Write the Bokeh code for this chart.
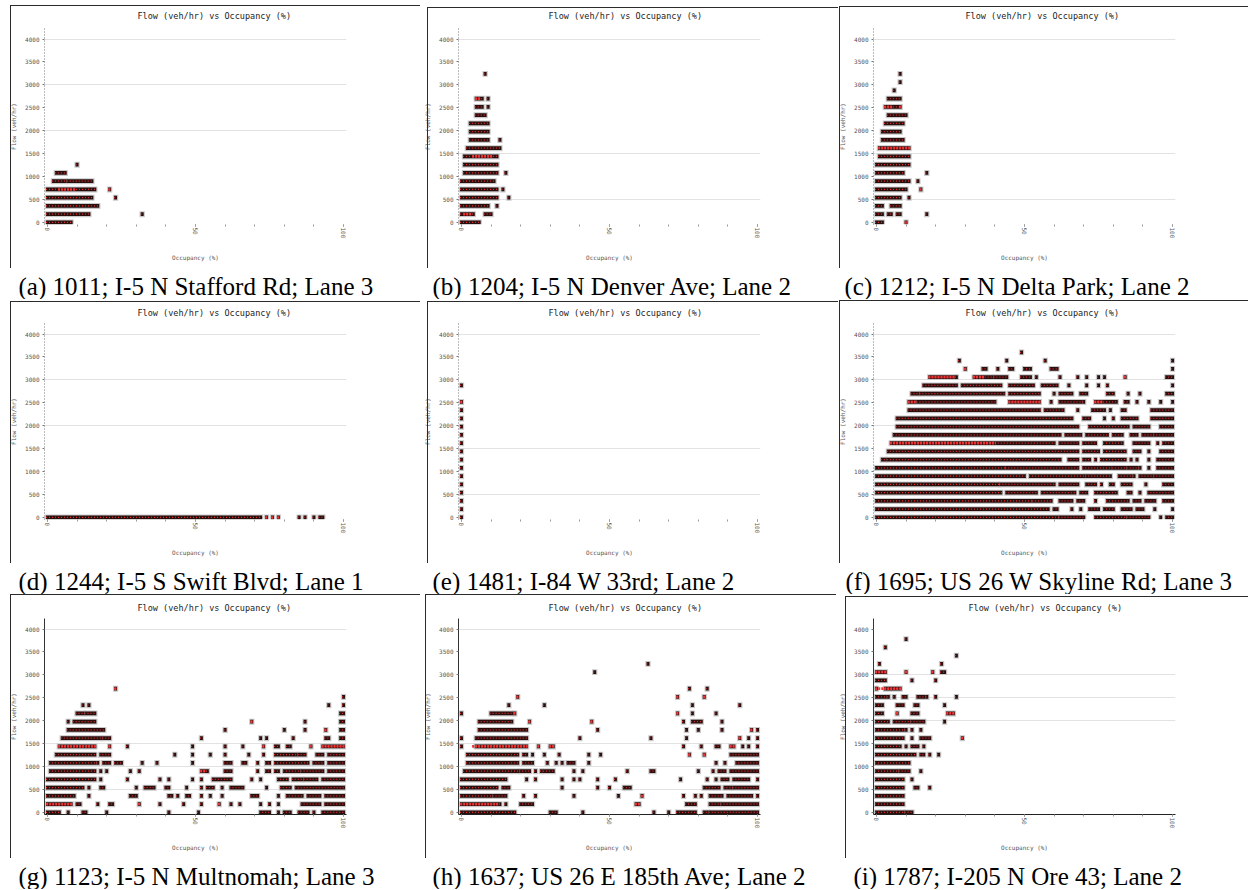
from bokeh.plotting import figure
from bokeh.models import Range1d, FixedTicker, Label, ColumnDataSource, InlineStyleSheet
from bokeh.layouts import column, row
from bokeh.embed import file_html
from bokeh.resources import INLINE

TITLE = "Flow (veh/hr) vs Occupancy (%)"
X_LABEL = "Occupancy (%)"
Y_LABEL = "Flow (veh/hr)"
Y_TICKS = [0, 500, 1000, 1500, 2000, 2500, 3000, 3500, 4000]
X_TICKS = [0, 50, 100]
X_MINOR = [0, 10, 20, 30, 40, 50, 60, 70, 80, 90, 100]

CAPTIONS = [
    "(a) 1011; I-5 N Stafford Rd; Lane 3",
    "(b) 1204; I-5 N Denver Ave; Lane 2",
    "(c) 1212; I-5 N Delta Park; Lane 2",
    "(d) 1244; I-5 S Swift Blvd; Lane 1",
    "(e) 1481; I-84 W 33rd; Lane 2",
    "(f) 1695; US 26 W Skyline Rd; Lane 3",
    "(g) 1123; I-5 N Multnomah; Lane 3",
    "(h) 1637; US 26 E 185th Ave; Lane 2",
    "(i) 1787; I-205 N Ore 43; Lane 2",
]

# runs of observed points: (flow veh/hr, occupancy from %, occupancy to %)
A_RUNS = [(0, 0, 8), (180, 0, 14), (180, 32, 32), (360, 0, 17), (540, 0, 15), (540, 23, 23),
          (720, 0, 16), (720, 21, 21), (900, 2, 6), (900, 7, 15), (1080, 3, 6), (1260, 10, 10)]
A_RED = [(720, 21, 21), (720, 4, 9)]
A_GRID = [2000, 3000, 4000]

B_RUNS = [(0, 0, 6), (180, 0, 4), (180, 8, 10), (360, 0, 9), (360, 12, 12), (540, 0, 12), (540, 16, 16),
          (720, 0, 12), (720, 14, 14), (900, 0, 11), (1080, 1, 12), (1080, 15, 15), (1260, 1, 12),
          (1440, 1, 12), (1620, 2, 13), (1800, 3, 9), (1800, 13, 13), (1980, 3, 9), (2160, 3, 9),
          (2340, 5, 8), (2520, 5, 7), (2520, 9, 9), (2700, 5, 7), (2700, 9, 9), (3240, 8, 8)]
B_RED = [(1440, 4, 10), (180, 1, 3), (2700, 5, 6)]
B_GRID = [500, 1500, 4000]

C_RUNS = [(0, 0, 2), (0, 10, 10), (180, 0, 2), (180, 4, 5), (180, 7, 8), (180, 17, 17), (360, 0, 2),
          (360, 5, 8), (540, 0, 8), (540, 11, 11), (720, 0, 10), (720, 15, 15), (900, 0, 11), (900, 14, 14),
          (1080, 0, 9), (1080, 17, 17), (1260, 0, 11), (1440, 1, 11), (1620, 1, 11), (1800, 2, 9),
          (1980, 2, 8), (2160, 3, 9), (2340, 4, 10), (2520, 3, 8), (2700, 4, 8), (2880, 6, 6),
          (3060, 8, 8), (3240, 8, 8)]
C_RED = [(0, 10, 10), (720, 15, 15), (1620, 1, 11), (2520, 3, 5), (2520, 8, 8)]
C_GRID = [500, 1500, 4000]

D_RUNS = [(0, 0, 72), (0, 74, 74), (0, 76, 76), (0, 78, 78), (0, 85, 85), (0, 87, 87), (0, 90, 90),
          (0, 92, 93)]
D_RED = [(0, 74, 74), (0, 76, 76), (0, 78, 78)]
D_GRID = [2000, 3000, 4000]

E_RUNS = [(0, 0, 0), (180, 0, 0), (360, 0, 0), (540, 0, 0), (720, 0, 0), (900, 0, 0), (1080, 0, 0),
          (1260, 0, 0), (1440, 0, 0), (1620, 0, 0), (1800, 0, 0), (1980, 0, 0), (2160, 0, 0),
          (2340, 0, 0), (2520, 0, 0), (2880, 0, 0)]
E_RED = [(2520, 0, 0)]
E_GRID = [500, 1500, 4000]

F_RUNS = [
    (0, 0, 61), (0, 62, 70), (0, 74, 84), (0, 85, 92), (0, 96, 96), (0, 98, 100),
    (180, 0, 58), (180, 60, 61), (180, 66, 66), (180, 69, 69), (180, 72, 75), (180, 77, 80),
    (180, 83, 86), (180, 88, 90), (180, 94, 94), (180, 100, 100),
    (360, 0, 52), (360, 53, 59), (360, 62, 66), (360, 68, 70), (360, 74, 74), (360, 78, 85),
    (360, 87, 89), (360, 91, 94), (360, 97, 100),
    (540, 0, 42), (540, 44, 54), (540, 56, 67), (540, 69, 71), (540, 74, 77), (540, 78, 81),
    (540, 85, 86), (540, 89, 89), (540, 92, 100),
    (720, 0, 41), (720, 42, 60), (720, 62, 68), (720, 71, 74), (720, 76, 76), (720, 79, 80),
    (720, 83, 86), (720, 91, 91), (720, 97, 100),
    (900, 0, 50), (900, 52, 70), (900, 71, 74), (900, 75, 79), (900, 82, 86), (900, 87, 87),
    (900, 89, 93), (900, 94, 100),
    (1080, 0, 43), (1080, 44, 68), (1080, 70, 74), (1080, 75, 79), (1080, 80, 84), (1080, 85, 88),
    (1080, 89, 89), (1080, 92, 92), (1080, 95, 100),
    (1260, 2, 3), (1260, 4, 62), (1260, 65, 68), (1260, 70, 72), (1260, 74, 74), (1260, 76, 84),
    (1260, 86, 86), (1260, 88, 88), (1260, 92, 92), (1260, 95, 100),
    (1440, 4, 68), (1440, 70, 75), (1440, 77, 84), (1440, 87, 89), (1440, 92, 92), (1440, 96, 100),
    (1620, 5, 60), (1620, 62, 68), (1620, 70, 74), (1620, 77, 83), (1620, 87, 92), (1620, 95, 95),
    (1620, 97, 100),
    (1800, 6, 62), (1800, 64, 69), (1800, 71, 78), (1800, 80, 83), (1800, 86, 88), (1800, 90, 93),
    (1800, 94, 100),
    (1980, 7, 68), (1980, 72, 78), (1980, 79, 85), (1980, 87, 92), (1980, 96, 100),
    (2160, 7, 66), (2160, 70, 72), (2160, 77, 77), (2160, 80, 80), (2160, 83, 88), (2160, 93, 100),
    (2340, 11, 55), (2340, 57, 63), (2340, 68, 68), (2340, 73, 77), (2340, 79, 79), (2340, 83, 84),
    (2340, 93, 100),
    (2520, 11, 13), (2520, 14, 40), (2520, 45, 55), (2520, 59, 59), (2520, 62, 69), (2520, 70, 70),
    (2520, 74, 81), (2520, 84, 85), (2520, 88, 88), (2520, 92, 92), (2520, 96, 96), (2520, 100, 100),
    (2700, 12, 14), (2700, 15, 43), (2700, 45, 55), (2700, 60, 60), (2700, 62, 66), (2700, 69, 71),
    (2700, 78, 80), (2700, 85, 85), (2700, 89, 89), (2700, 98, 100),
    (2880, 16, 27), (2880, 29, 42), (2880, 45, 53), (2880, 56, 61), (2880, 65, 65), (2880, 71, 71),
    (2880, 75, 75), (2880, 78, 78), (2880, 100, 100),
    (3060, 18, 26), (3060, 27, 27), (3060, 33, 39), (3060, 40, 44), (3060, 49, 52), (3060, 54, 54),
    (3060, 62, 62), (3060, 68, 68), (3060, 71, 71), (3060, 75, 75), (3060, 77, 77), (3060, 84, 84),
    (3060, 98, 100),
    (3240, 30, 30), (3240, 36, 37), (3240, 41, 41), (3240, 45, 46), (3240, 50, 52), (3240, 59, 61),
    (3240, 100, 100),
    (3420, 28, 28), (3420, 44, 44), (3420, 57, 57), (3420, 100, 100),
    (3600, 49, 49),
]
F_RED = [(3060, 18, 26), (2520, 11, 13), (2520, 45, 55), (2520, 74, 76), (1620, 5, 40),
         (3060, 33, 36), (3060, 84, 84), (3240, 30, 30)]
F_GRID = [2000, 3000, 4000]

G_RUNS = [
    (0, 0, 4), (0, 7, 7), (0, 12, 13), (0, 20, 20), (0, 41, 41), (0, 51, 51), (0, 72, 75), (0, 78, 78),
    (0, 80, 82), (0, 85, 88), (0, 90, 90), (0, 93, 100),
    (180, 0, 8), (180, 10, 11), (180, 17, 17), (180, 21, 22), (180, 31, 31), (180, 38, 38),
    (180, 46, 46), (180, 52, 52), (180, 58, 58), (180, 62, 62), (180, 65, 65), (180, 72, 72),
    (180, 75, 75), (180, 78, 78), (180, 86, 92), (180, 94, 100),
    (360, 0, 9), (360, 14, 14), (360, 28, 30), (360, 41, 42), (360, 44, 44), (360, 47, 48),
    (360, 52, 52), (360, 55, 55), (360, 59, 59), (360, 69, 71), (360, 78, 78), (360, 81, 86),
    (360, 88, 92), (360, 94, 100),
    (540, 0, 12), (540, 14, 14), (540, 18, 19), (540, 30, 30), (540, 33, 36), (540, 40, 41),
    (540, 47, 47), (540, 52, 52), (540, 54, 56), (540, 59, 59), (540, 62, 66), (540, 74, 74),
    (540, 79, 82), (540, 84, 100),
    (720, 0, 16), (720, 18, 18), (720, 27, 27), (720, 38, 38), (720, 41, 41), (720, 49, 49),
    (720, 52, 52), (720, 56, 62), (720, 69, 69), (720, 72, 72), (720, 78, 81), (720, 83, 86),
    (720, 87, 91), (720, 93, 100),
    (900, 1, 16), (900, 18, 18), (900, 20, 20), (900, 28, 28), (900, 31, 31), (900, 52, 54),
    (900, 60, 62), (900, 71, 71), (900, 74, 75), (900, 77, 78), (900, 80, 85), (900, 86, 93),
    (900, 95, 100),
    (1080, 1, 16), (1080, 17, 17), (1080, 19, 21), (1080, 23, 25), (1080, 32, 32), (1080, 37, 37),
    (1080, 49, 49), (1080, 60, 62), (1080, 66, 67), (1080, 71, 71), (1080, 74, 75), (1080, 77, 88),
    (1080, 90, 93), (1080, 95, 100),
    (1260, 3, 16), (1260, 18, 21), (1260, 43, 43), (1260, 49, 49), (1260, 55, 55), (1260, 60, 60),
    (1260, 68, 68), (1260, 73, 73), (1260, 77, 84), (1260, 85, 87), (1260, 91, 93), (1260, 95, 100),
    (1440, 4, 16), (1440, 21, 21), (1440, 27, 27), (1440, 49, 49), (1440, 60, 60), (1440, 66, 66),
    (1440, 73, 73), (1440, 77, 78), (1440, 81, 82), (1440, 89, 89), (1440, 93, 100),
    (1620, 5, 18), (1620, 19, 21), (1620, 52, 52), (1620, 72, 72), (1620, 74, 74), (1620, 83, 83),
    (1620, 94, 95), (1620, 99, 100),
    (1800, 7, 19), (1800, 60, 60), (1800, 80, 80), (1800, 87, 87), (1800, 94, 94), (1800, 99, 100),
    (1980, 7, 7), (1980, 9, 16), (1980, 69, 69), (1980, 87, 87), (1980, 99, 100),
    (2160, 10, 12), (2160, 13, 16), (2160, 99, 100),
    (2340, 12, 12), (2340, 14, 14), (2340, 95, 95), (2340, 100, 100),
    (2520, 100, 100),
    (2700, 23, 23),
]
G_RED = [(2700, 23, 23), (1980, 69, 69), (1800, 94, 94), (1440, 4, 16), (1440, 21, 21),
         (1440, 73, 73), (1440, 89, 89), (1440, 93, 100), (180, 31, 31), (180, 0, 8),
         (180, 58, 58), (900, 52, 53)]
G_GRID = [500, 1000, 1500, 4000]

H_RUNS = [
    (0, 0, 18), (0, 30, 32), (0, 41, 41), (0, 65, 65), (0, 70, 70), (0, 73, 79), (0, 82, 83),
    (0, 84, 100),
    (180, 0, 13), (180, 15, 15), (180, 20, 24), (180, 59, 60), (180, 76, 79), (180, 84, 87),
    (180, 88, 100),
    (360, 0, 10), (360, 11, 15), (360, 21, 21), (360, 25, 25), (360, 38, 38), (360, 53, 53),
    (360, 61, 61), (360, 75, 75), (360, 79, 79), (360, 81, 81), (360, 84, 88), (360, 90, 98),
    (360, 100, 100),
    (540, 0, 12), (540, 14, 16), (540, 34, 34), (540, 46, 46), (540, 50, 50), (540, 55, 57),
    (540, 82, 87), (540, 89, 91), (540, 92, 100),
    (720, 0, 15), (720, 22, 22), (720, 25, 25), (720, 34, 34), (720, 38, 38), (720, 40, 40),
    (720, 46, 46), (720, 52, 52), (720, 74, 74), (720, 83, 83), (720, 86, 86), (720, 88, 90),
    (720, 92, 97), (720, 100, 100),
    (900, 1, 19), (900, 20, 23), (900, 25, 25), (900, 27, 27), (900, 28, 31), (900, 38, 38),
    (900, 41, 41), (900, 56, 56), (900, 64, 65), (900, 80, 80), (900, 85, 85), (900, 87, 89),
    (900, 91, 100),
    (1080, 2, 19), (1080, 21, 24), (1080, 29, 29), (1080, 32, 32), (1080, 34, 34), (1080, 36, 38),
    (1080, 43, 43), (1080, 86, 86), (1080, 89, 89), (1080, 93, 100),
    (1260, 2, 19), (1260, 21, 22), (1260, 24, 24), (1260, 28, 28), (1260, 33, 33), (1260, 43, 43),
    (1260, 47, 47), (1260, 77, 77), (1260, 82, 82), (1260, 91, 100),
    (1440, 0, 0), (1440, 5, 22), (1440, 26, 26), (1440, 30, 31), (1440, 75, 75), (1440, 81, 81),
    (1440, 86, 87), (1440, 91, 92), (1440, 95, 95), (1440, 97, 97), (1440, 100, 100),
    (1620, 0, 0), (1620, 5, 22), (1620, 40, 40), (1620, 64, 64), (1620, 76, 76), (1620, 94, 94),
    (1620, 97, 97), (1620, 100, 100),
    (1800, 6, 22), (1800, 46, 46), (1800, 76, 76), (1800, 80, 80), (1800, 88, 88), (1800, 98, 98),
    (1800, 100, 100),
    (1980, 6, 17), (1980, 23, 23), (1980, 44, 44), (1980, 75, 75), (1980, 78, 81), (1980, 88, 88),
    (2160, 0, 0), (2160, 10, 17), (2160, 18, 18), (2160, 73, 73), (2160, 78, 78), (2160, 86, 86),
    (2340, 16, 16), (2340, 28, 28), (2340, 78, 78), (2340, 94, 94),
    (2520, 19, 19), (2520, 73, 73), (2520, 82, 82),
    (2700, 77, 77), (2700, 83, 83),
    (3060, 45, 45),
    (3240, 63, 63),
]
H_RED = [(2520, 19, 19), (2520, 73, 73), (2520, 82, 82), (2160, 18, 18), (2160, 73, 73),
         (1980, 23, 23), (1980, 44, 44), (1800, 98, 98), (1620, 94, 94), (1440, 4, 22),
         (1440, 26, 26), (1440, 30, 31), (1440, 91, 92), (1260, 77, 77), (1260, 82, 82),
         (360, 61, 61), (180, 59, 60), (180, 0, 12)]
H_GRID = [500, 1000, 1500, 4000]

I_RUNS = [
    (0, 0, 9), (0, 10, 12),
    (180, 0, 9),
    (360, 0, 9),
    (540, 0, 9), (540, 13, 14), (540, 18, 18),
    (720, 0, 9), (720, 12, 12),
    (900, 0, 7), (900, 8, 11), (900, 15, 15),
    (1080, 0, 11),
    (1260, 0, 13), (1260, 15, 16), (1260, 18, 18), (1260, 21, 21),
    (1440, 0, 8), (1440, 10, 10), (1440, 12, 14), (1440, 16, 16),
    (1620, 0, 9), (1620, 12, 12), (1620, 15, 18), (1620, 29, 29),
    (1800, 0, 9), (1800, 10, 10), (1800, 12, 12), (1800, 15, 15),
    (1980, 0, 4), (1980, 6, 11), (1980, 12, 16), (1980, 23, 23),
    (2160, 0, 2), (2160, 7, 7), (2160, 12, 14), (2160, 24, 26),
    (2340, 0, 2), (2340, 7, 9), (2340, 13, 14), (2340, 23, 23),
    (2520, 0, 3), (2520, 4, 4), (2520, 6, 6), (2520, 9, 10), (2520, 14, 16), (2520, 17, 17),
    (2520, 20, 20), (2520, 27, 27),
    (2700, 0, 0), (2700, 3, 8),
    (2880, 0, 3), (2880, 12, 12), (2880, 20, 20),
    (3060, 0, 3), (3060, 10, 10), (3060, 19, 19), (3060, 22, 23),
    (3240, 1, 1), (3240, 22, 22),
    (3420, 27, 27),
    (3600, 3, 3),
    (3780, 10, 10),
]
I_RED = [(1620, 29, 29), (2160, 7, 7), (2160, 24, 26), (2700, 0, 8), (3060, 0, 3), (3060, 10, 10),
         (3060, 19, 19)]
I_GRID = [2000, 2500, 3000]

COL_W = [418, 418, 412]
COL_L = [44, 40, 37]
ROW_TOP = [28, 24, 24]
ROW_STANDOFF = [15, 12, 12]
ROW_H = [269, 265, 265]
CAP_H = 30
FRAME_W = 302
FRAME_H = 196
MONO = "DejaVu Sans Mono"


def frame_css(left, top, width, height):
    return InlineStyleSheet(css=(
        ":host::after {content: ''; position: absolute; left: %dpx; top: %dpx; width: %dpx; "
        "height: %dpx; border-left: 1px solid #2b2b2b; border-top: 1px solid #2b2b2b; "
        "pointer-events: none; z-index: 5;}" % (left, top, width, height)))


def make_chart(runs, reds, grid, col, rw, solid, title_dx, border):
    w = COL_W[col]
    left = COL_L[col]
    h = ROW_H[rw]
    top = ROW_TOP[rw]
    p = figure(width=w, height=h, x_range=Range1d(-1, 101), y_range=Range1d(-45, 4230),
               output_backend="svg", toolbar_location=None,
               min_border_left=left, min_border_right=w - left - FRAME_W,
               min_border_top=top, min_border_bottom=h - top - FRAME_H,
               stylesheets=[frame_css(*border)])
    p.outline_line_color = None
    p.background_fill_color = "white"
    p.border_fill_color = "white"

    p.title.text = TITLE
    p.title.align = "left"
    p.title.offset = title_dx
    p.title.text_font = MONO
    p.title.text_font_size = "8.5px"
    p.title.text_font_style = "normal"
    p.title.text_color = "#222222"
    p.title.standoff = ROW_STANDOFF[rw]

    p.xgrid.visible = False
    p.ygrid.ticker = FixedTicker(ticks=grid)
    p.ygrid.grid_line_color = "#e2e2e2"
    p.ygrid.grid_line_width = 1

    xa = p.xaxis[0]
    xa.ticker = FixedTicker(ticks=X_TICKS, minor_ticks=X_MINOR)
    xa.major_label_orientation = "vertical"
    xa.major_label_text_font = MONO
    xa.major_label_text_font_size = "6px"
    xa.major_label_text_color = "#555555"
    xa.major_label_standoff = 1
    xa.major_tick_out = 2
    xa.major_tick_in = 0
    xa.minor_tick_out = 2
    xa.minor_tick_in = 0
    xa.major_tick_line_color = "#777777"
    xa.minor_tick_line_color = "#999999"
    xa.axis_line_color = "#222222" if solid else None
    xa.axis_label = X_LABEL
    xa.axis_label_text_font = MONO
    xa.axis_label_text_font_size = "6px"
    xa.axis_label_text_font_style = "normal"
    xa.axis_label_text_color = "#555555"
    xa.axis_label_standoff = 13

    ya = p.yaxis[0]
    ya.ticker = FixedTicker(ticks=Y_TICKS)
    ya.major_label_text_font = MONO
    ya.major_label_text_font_size = "6px"
    ya.major_label_text_color = "#555555"
    ya.major_label_standoff = 3
    ya.major_tick_out = 2
    ya.major_tick_in = 0
    ya.major_tick_line_color = "#777777"
    ya.minor_tick_line_color = None
    ya.axis_line_color = "#333333" if solid else "#777777"
    if not solid:
        ya.axis_line_dash = "1 2"
    ya.axis_label = Y_LABEL
    ya.axis_label_text_font = MONO
    ya.axis_label_text_font_size = "6px"
    ya.axis_label_text_font_style = "normal"
    ya.axis_label_text_color = "#555555"
    ya.axis_label_standoff = 5

    src = ColumnDataSource(dict(
        flow=[r[0] for r in runs],
        lo=[r[1] - 0.5 for r in runs],
        hi=[r[2] + 0.5 for r in runs],
        lo_h=[r[1] - 0.9 for r in runs],
        hi_h=[r[2] + 0.9 for r in runs],
    ))
    rsrc = ColumnDataSource(dict(
        flow=[r[0] for r in reds],
        lo=[r[1] - 0.4 for r in reds],
        hi=[r[2] + 0.4 for r in reds],
    ))
    p.hbar(y="flow", left="lo_h", right="hi_h", height=130, source=src,
           fill_color="#c9c9c9", line_color=None)
    p.hbar(y="flow", left="lo", right="hi", height=80, source=src,
           fill_color="#2a0f0f", line_color=None)
    p.segment(x0="lo", y0="flow", x1="hi", y1="flow", source=src,
              line_color="#e52a2a", line_width=1.2, line_dash="1 2")
    p.segment(x0="lo", y0="flow", x1="hi", y1="flow", source=rsrc,
              line_color="#ee3434", line_width=2.6, line_dash="2 1")
    return p


def make_caption(text, col, cap_x):
    w = COL_W[col]
    c = figure(width=w, height=CAP_H, x_range=Range1d(0, w), y_range=Range1d(0, CAP_H),
               output_backend="svg", toolbar_location=None, title_location=None,
               x_axis_location=None, y_axis_location=None,
               min_border=0, min_border_left=0, min_border_right=0,
               min_border_top=0, min_border_bottom=0)
    c.outline_line_color = None
    c.grid.visible = False
    c.background_fill_color = "white"
    c.border_fill_color = "white"
    c.add_layout(Label(x=cap_x, y=13.2, text=text, text_font="Liberation Serif",
                       text_font_size="25px", text_color="black",
                       text_baseline="alphabetic", text_align="left"))
    return c


# (runs, red runs, grid, column, row, solid axes, title offset, caption x, border box)
specs = [
    (A_RUNS, A_RED, A_GRID, 0, 0, False, 93, 18, (10, 5, 410, 263)),
    (B_RUNS, B_RED, B_GRID, 1, 0, False, 90, 14, (9, 7, 411, 261)),
    (C_RUNS, C_RED, C_GRID, 2, 0, False, 92, 8, (3, 6, 409, 262)),
    (D_RUNS, D_RED, D_GRID, 0, 1, False, 93, 18, (10, 2, 410, 262)),
    (E_RUNS, E_RED, E_GRID, 1, 1, False, 90, 14, (9, 2, 411, 262)),
    (F_RUNS, F_RED, F_GRID, 2, 1, False, 92, 9, (3, 1, 409, 263)),
    (G_RUNS, G_RED, G_GRID, 0, 2, True, 93, 18, (10, 0, 410, 264)),
    (H_RUNS, H_RED, H_GRID, 1, 2, True, 90, 14, (7, 0, 411, 264)),
    (I_RUNS, I_RED, I_GRID, 2, 2, True, 95, 17, (9, 2, 403, 262)),
]

charts, caps = [], []
for i, (runs, reds, grid, col, rw, solid, tdx, cx, border) in enumerate(specs):
    charts.append(make_chart(runs, reds, grid, col, rw, solid, tdx, border))
    caps.append(make_caption(CAPTIONS[i], col, cx))

bands = []
for r in range(3):
    bands.append(row(*charts[3 * r:3 * r + 3]))
    bands.append(row(*caps[3 * r:3 * r + 3]))

layout = column(*bands)

open("out.html", "w").write(file_html(layout, INLINE))
